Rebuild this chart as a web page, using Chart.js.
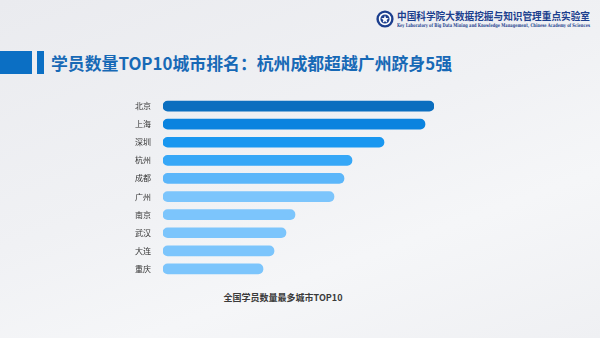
<!DOCTYPE html>
<html>
<head>
<meta charset="utf-8">
<script src="https://cdn.jsdelivr.net/npm/chart.js@4"></script>
<style>
  html, body { margin: 0; padding: 0; }
  body {
    width: 600px; height: 338px; position: relative; overflow: hidden;
    background: linear-gradient(160deg, #eaebef 0%, #f0f1f4 45%, #f5f6f8 70%, #eff0f3 100%);
    font-family: "Noto Sans CJK SC", "Noto Sans", sans-serif;
  }
  .blockA { position: absolute; left: 0; top: 51px; width: 32px; height: 23px; background: #0b6fc4; }
  .blockB { position: absolute; left: 37px; top: 51px; width: 7px; height: 23px; background: #0b6fc4; }
  .title {
    position: absolute; left: 51px; top: 50px; font-size: 17px; font-weight: bold;
    color: #1769b6; white-space: nowrap; line-height: 26px; transform-origin: left center;
  }
  .logoCn {
    position: absolute; left: 397px; top: 9px; font-size: 10px; font-weight: bold;
    color: #1c3f8e; white-space: nowrap; line-height: 13px; transform-origin: left top;
  }
  .logoEn {
    position: absolute; left: 397px; top: 22px; font-size: 5px; font-weight: bold;
    font-family: "DejaVu Serif", serif; color: #1c3f8e; white-space: nowrap;
    line-height: 6px; transform-origin: left top;
  }
  .emblem { position: absolute; left: 376px; top: 10px; }
  .caption {
    position: absolute; left: 0; width: 566px; top: 290px; text-align: center;
    font-size: 9px; font-weight: bold; color: #3b3b3b; line-height: 16px;
  }
  #myChart { position: absolute; left: 120px; top: 97px; }
</style>
</head>
<body>
<svg class="emblem" width="18" height="18" viewBox="0 0 18 18">
  <circle cx="9" cy="9" r="8.6" fill="#1c3f8e"/>
  <circle cx="9" cy="9" r="6.2" fill="#ffffff"/>
  <circle cx="9" cy="9" r="4.6" fill="#1c3f8e"/>
  <path d="M9 5.2 L10 8 L12.8 8.2 L10.6 10 L11.4 12.8 L9 11.2 L6.6 12.8 L7.4 10 L5.2 8.2 L8 8 Z" fill="#ffffff"/>
</svg>
<div class="logoCn" id="logoCn">中国科学院大数据挖掘与知识管理重点实验室</div>
<div class="logoEn" id="logoEn">Key Laboratory of Big Data Mining and Knowledge Management, Chinese Academy of Sciences</div>

<div class="blockA"></div>
<div class="blockB"></div>
<div class="title" id="title">学员数量TOP10城市排名：杭州成都超越广州跻身5强</div>

<canvas id="myChart" width="316" height="181"></canvas>

<div class="caption">全国学员数量最多城市TOP10</div>

<script>
// squeeze header texts to the widths seen in the picture
function fitWidth(id, w) {
    const el = document.getElementById(id);
    const real = el.getBoundingClientRect().width;
    el.style.transform = 'scaleX(' + (w / real) + ')';
}
fitWidth('title', 401);
fitWidth('logoCn', 193);
fitWidth('logoEn', 193);

// data (relative bar lengths)
const cities = ['北京', '上海', '深圳', '杭州', '成都', '广州', '南京', '武汉', '大连', '重庆'];
const students = [271, 262, 221, 189, 181, 171, 132, 123, 111, 100];
const barColors = ['#0b6ebf', '#0a83df', '#1997f0', '#36a7f7', '#5bb6fa', '#7cc5fc', '#7cc5fc', '#7cc5fc', '#7cc5fc', '#7cc5fc'];

const canvas = document.getElementById('myChart');

const myChart = new Chart(canvas, {
    type: 'bar',
    data: {
        labels: cities,
        datasets: [
            {
                label: '学员数量',
                data: students,
                backgroundColor: barColors,
                barThickness: 10,
                borderRadius: 5,
                borderSkipped: false,
            }
        ]
    },
    options: {
        indexAxis: 'y',
        animation: false,
        responsive: false,
        layout: { padding: { left: 0, right: 2, top: 0, bottom: 0 } },
        plugins: {
            legend: { display: false },
            tooltip: { enabled: false },
        },
        scales: {
            x: {
                display: false,
                min: 0,
                max: 271,
            },
            y: {
                grid: { display: false, drawTicks: false },
                border: { display: false },
                ticks: {
                    padding: 12,
                    color: '#333333',
                    font: { family: '"Noto Sans CJK SC"', size: 8 },
                },
                afterFit: function (axis) {
                    axis.width = 43;
                    axis.paddingTop = 0;
                    axis.paddingBottom = 0;
                },
            },
        }
    }
});
</script>
</body>
</html>
